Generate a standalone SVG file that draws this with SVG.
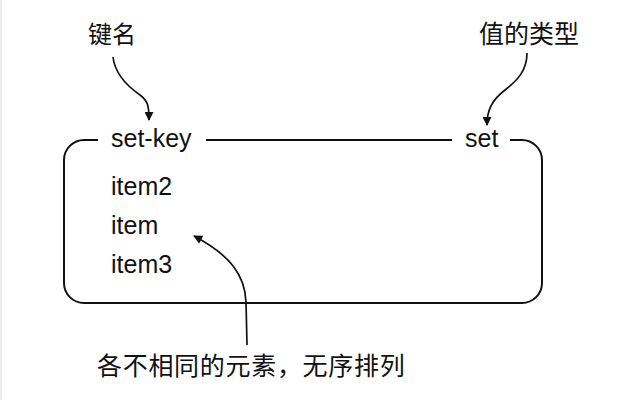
<svg xmlns="http://www.w3.org/2000/svg" width="640" height="400" viewBox="0 0 640 400">
<style>
.lbl{font-family:"Liberation Sans",Arial,sans-serif;font-size:25px;fill:#111}
.cjk{font-family:"Noto Sans CJK SC","Noto Sans",sans-serif;font-size:24px;fill:#111}
.ln{fill:none;stroke:#111;stroke-width:2}
.ar{fill:none;stroke:#111;stroke-width:1.7}
</style>
<defs>
<marker id="ah" viewBox="0 0 10 10" refX="9" refY="5" markerUnits="userSpaceOnUse" markerWidth="13" markerHeight="9" orient="auto">
<path d="M0,0 L10,5 L0,10 z" fill="#111"/>
</marker>
</defs>
<rect x="0" y="0" width="640" height="400" fill="#fff"/>
<rect x="0" y="0" width="2" height="400" fill="#ececec"/>
<g id="set-box">
<path class="ln" d="M98,140 H84 A20,20 0 0 0 64,160 V283 A20,20 0 0 0 84,303 H522 A20,20 0 0 0 542,283 V160 A20,20 0 0 0 522,140 H510"/>
<line class="ln" x1="206" y1="140" x2="452" y2="140"/>
<text class="lbl" x="111" y="147">set-key</text>
<text class="lbl" x="465" y="147">set</text>
<text class="lbl" x="111" y="195">item2</text>
<text class="lbl" x="111" y="234">item</text>
<text class="lbl" x="111" y="273">item3</text>
</g>
<g id="label-key"><text class="cjk" x="88" y="43">键名</text></g>
<g id="label-type"><text class="cjk" x="479" y="43" style="font-size:25px">值的类型</text></g>
<g id="label-elements"><text class="cjk" x="97" y="375" style="font-size:25px;letter-spacing:0.7px">各不相同的元素，无序排列</text></g>
<g id="connectors">
<path class="ar" marker-end="url(#ah)" d="M113,57 C115,75 130,88 140,95 C148,101 149,106 149,120"/>
<path class="ar" marker-end="url(#ah)" d="M527,53 C527,70 518,80 505,90 C492,100 487,110 487,125"/>
<path class="ar" marker-end="url(#ah)" d="M247,345 L246,302 C245,275 230,255 194,236"/>
</g>
</svg>
